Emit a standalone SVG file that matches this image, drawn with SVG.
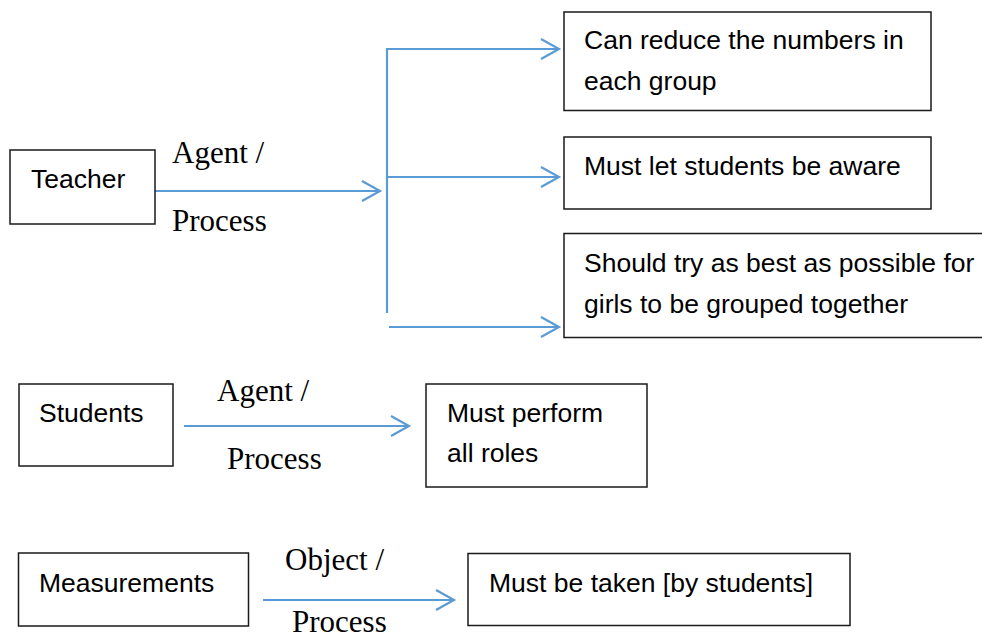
<svg xmlns="http://www.w3.org/2000/svg" width="982" height="640" viewBox="0 0 982 640">
  <style>
    .box { fill: #ffffff; stroke: #1a1a1a; stroke-width: 1.5; }
    .lbl { font-family: "Liberation Sans", Arial, sans-serif; font-size: 26.5px; fill: #000000; }
    .rel { font-family: "Liberation Serif", "Times New Roman", serif; font-size: 31px; fill: #000000; }
    .conn { fill: none; stroke: #5B9BD5; stroke-width: 2.2; }
  </style>
  <defs>
    <marker id="arrow" markerUnits="userSpaceOnUse" markerWidth="24" markerHeight="26" refX="19" refY="12" orient="auto" overflow="visible">
      <path d="M1,2 L19,12 L1,22" fill="none" stroke="#5B9BD5" stroke-width="2.2"/>
    </marker>
  </defs>

  <rect width="982" height="640" fill="#ffffff"/>

  <g id="connectors">
    <line class="conn" x1="155" y1="191" x2="380" y2="191" marker-end="url(#arrow)"/>
    <line class="conn" x1="387" y1="48" x2="387" y2="313"/>
    <line class="conn" x1="386" y1="49" x2="559" y2="49" marker-end="url(#arrow)"/>
    <line class="conn" x1="387" y1="177" x2="559" y2="177" marker-end="url(#arrow)"/>
    <line class="conn" x1="389" y1="327" x2="559" y2="327" marker-end="url(#arrow)"/>
    <line class="conn" x1="184" y1="426" x2="409" y2="426" marker-end="url(#arrow)"/>
    <line class="conn" x1="263" y1="600" x2="454" y2="600" marker-end="url(#arrow)"/>
  </g>

  <g id="labels">
    <text class="rel" x="172" y="163">Agent /</text>
    <text class="rel" x="172" y="231">Process</text>
    <text class="rel" x="217" y="401">Agent /</text>
    <text class="rel" x="227" y="469">Process</text>
    <text class="rel" x="285" y="570">Object /</text>
    <text class="rel" x="292" y="632">Process</text>
  </g>

  <g id="teacher">
    <rect class="box" x="10" y="150" width="145" height="74"/>
    <text class="lbl" x="31" y="188">Teacher</text>
  </g>

  <g id="reduce-numbers">
    <rect class="box" x="564" y="12" width="367" height="98.5"/>
    <text class="lbl" x="584" y="49">Can reduce the numbers in</text>
    <text class="lbl" x="584" y="90">each group</text>
  </g>

  <g id="let-aware">
    <rect class="box" x="564" y="137" width="367" height="72"/>
    <text class="lbl" x="584" y="175">Must let students be aware</text>
  </g>

  <g id="girls-grouped">
    <rect class="box" x="564" y="233.5" width="425" height="104"/>
    <text class="lbl" x="584" y="272">Should try as best as possible for</text>
    <text class="lbl" x="584" y="313">girls to be grouped together</text>
  </g>

  <g id="students">
    <rect class="box" x="19" y="384" width="154" height="82"/>
    <text class="lbl" x="39" y="422">Students</text>
  </g>

  <g id="perform-roles">
    <rect class="box" x="426" y="384" width="221" height="103"/>
    <text class="lbl" x="447" y="422">Must perform</text>
    <text class="lbl" x="447" y="462">all roles</text>
  </g>

  <g id="measurements">
    <rect class="box" x="18.5" y="553" width="230" height="73"/>
    <text class="lbl" x="39" y="592">Measurements</text>
  </g>

  <g id="be-taken">
    <rect class="box" x="468" y="553.5" width="382" height="72"/>
    <text class="lbl" x="489" y="592">Must be taken [by students]</text>
  </g>
</svg>
